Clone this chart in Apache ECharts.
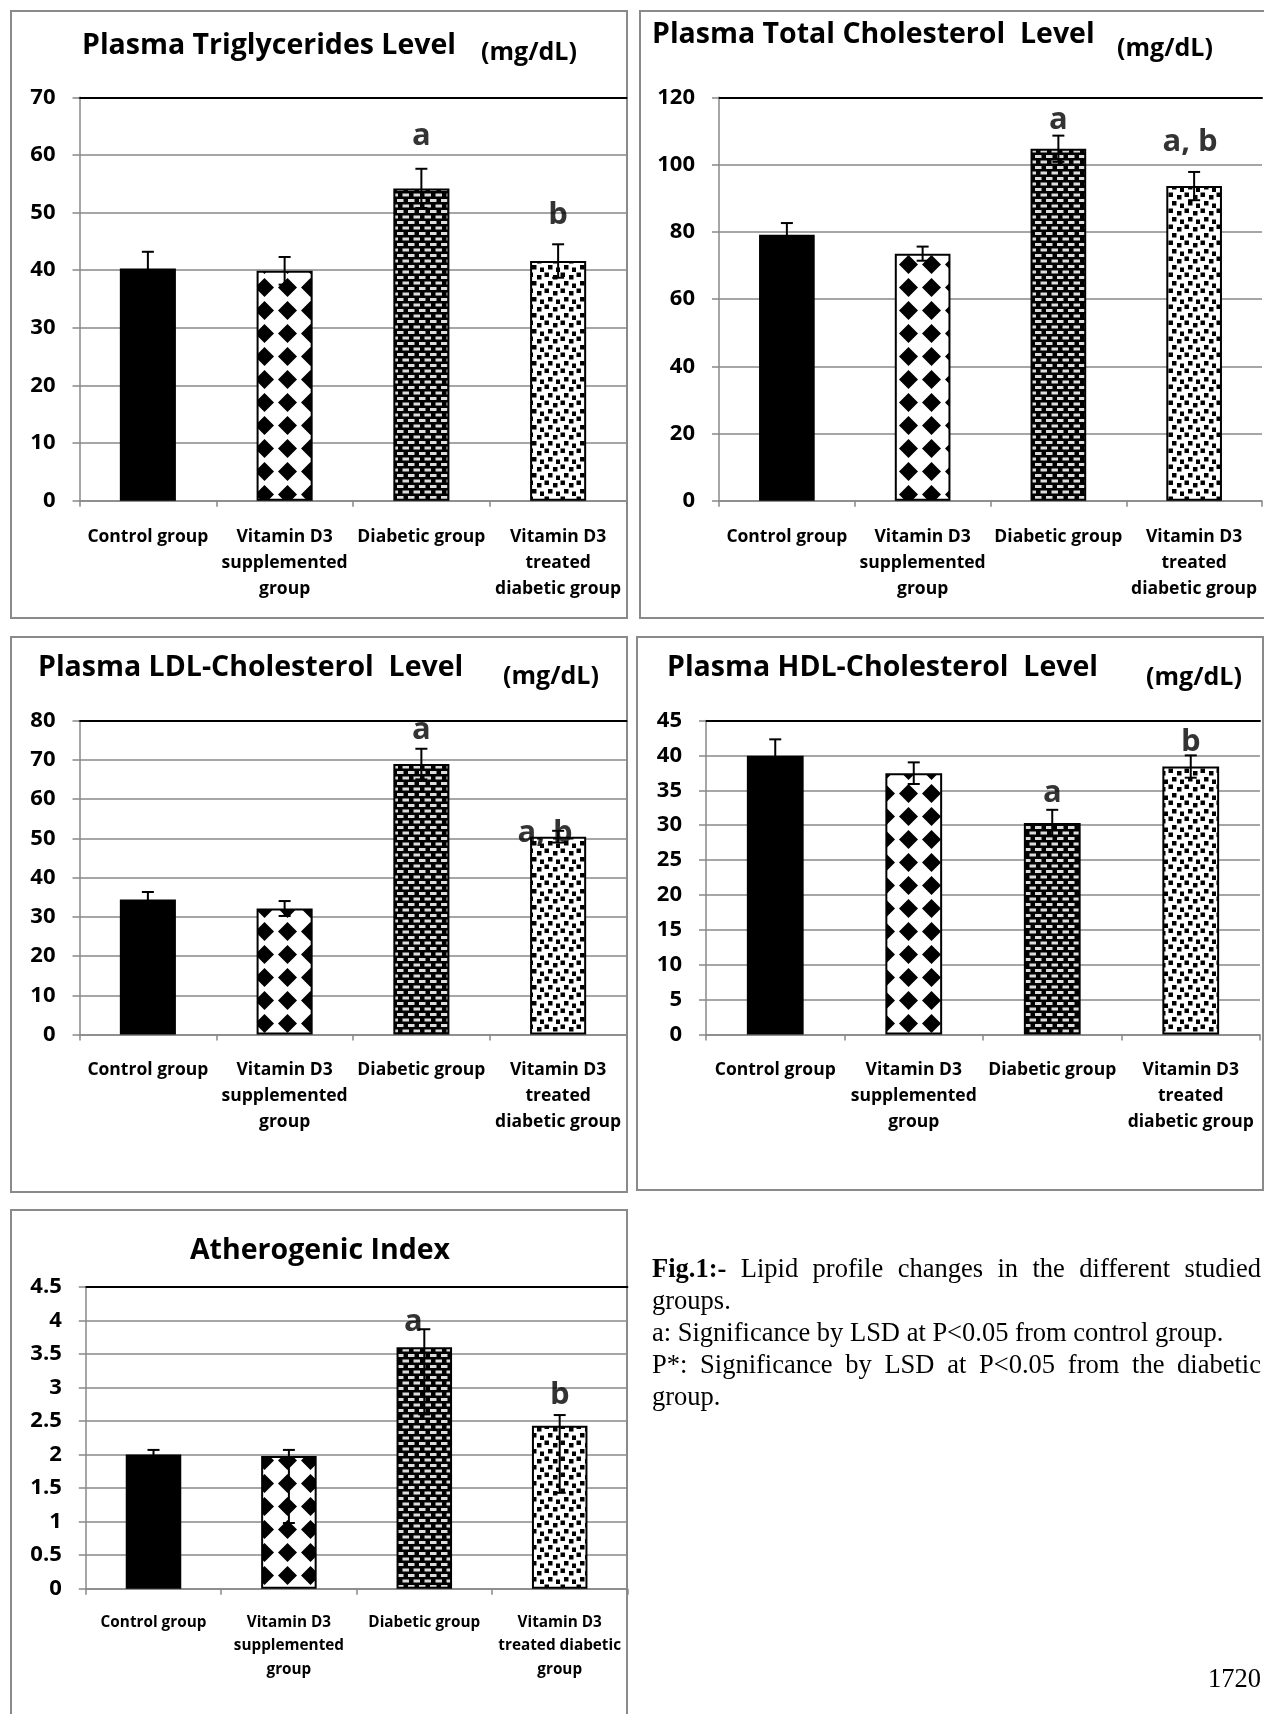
<!DOCTYPE html>
<html><head><meta charset="utf-8">
<script src="https://cdn.jsdelivr.net/npm/echarts@6/dist/echarts.min.js"></script>
<style>
html,body{margin:0;padding:0;background:#fff;}
#chart{position:absolute;left:0;top:0;width:1264px;height:1714px;}
#caption{position:absolute;left:652px;top:1252px;width:609px;font-family:'Liberation Serif','Times New Roman',serif;font-size:26.5px;line-height:32px;color:#000;}
.j{text-align:justify;text-align-last:justify;}
#page{position:absolute;left:1150px;top:1662px;width:111px;text-align:right;font-family:'Liberation Serif','Times New Roman',serif;font-size:26.5px;line-height:32px;color:#000;}
</style></head><body>
<div id="chart"></div>
<div id="caption">
<div class="j"><b>Fig.1:-</b> Lipid profile changes in the different studied</div>
<div>groups.</div>
<div>a: Significance by LSD at P&lt;0.05 from control group.</div>
<div class="j">P*: Significance by LSD at P&lt;0.05 from the diabetic</div>
<div>group.</div>
</div>
<div id="page">1720</div>
<script>
// ---------- DATA ----------
const categories = ['Control group', 'Vitamin D3\nsupplemented\ngroup', 'Diabetic group', 'Vitamin D3\ntreated\ndiabetic group'];
const categoriesAI = ['Control group', 'Vitamin D3\nsupplemented\ngroup', 'Diabetic group', 'Vitamin D3\ntreated diabetic\ngroup'];

const tgValues = [40.3, 39.9, 54.2, 41.6];
const tgErrPlus = [2.9, 2.4, 3.4, 2.9];
const tgErrMinus = [2.9, 2.4, 3.4, 2.9];
const tgSig = ['', '', 'a', 'b'];
const tgSigY = [null, null, 63.2, 49.5];

const tcValues = [79.1, 73.5, 104.7, 93.6];
const tcErrPlus = [3.5, 2.1, 3.9, 4.2];
const tcErrMinus = [3.5, 2.1, 3.9, 4.2];
const tcSig = ['', '', 'a', 'a, b'];
const tcSigY = [null, null, 113.2, 106.7];

const ldlValues = [34.4, 32.1, 68.9, 50.4];
const ldlErrPlus = [1.9, 1.9, 3.9, 1.5];
const ldlErrMinus = [1.9, 1.9, 3.9, 1.5];
const ldlSig = ['', '', 'a', 'a, b'];
const ldlSigY = [null, null, 77.5, 51.3];

const hdlValues = [39.95, 37.45, 30.3, 38.4];
const hdlErrPlus = [2.35, 1.55, 1.9, 1.6];
const hdlErrMinus = [2.35, 1.55, 1.9, 1.6];
const hdlSig = ['', '', 'a', 'b'];
const hdlSigY = [null, null, 34.6, 41.9];

const aiValues = [2.0, 1.98, 3.6, 2.43];
const aiErrPlus = [0.07, 0.09, 0.27, 0.16];
const aiErrMinus = [1.0, 1.0, 1.0, 1.0];
const aiSig = ['', '', 'a', 'b'];
const aiSigY = [null, null, 3.98, 2.89];

const yMax = [70, 120, 80, 45, 4.5];
const yInterval = [10, 20, 10, 5, 0.5];

// ---------- PATTERNS ----------
function makeCanvas(w, h, draw) {
  const c = document.createElement('canvas');
  c.width = w; c.height = h;
  draw(c.getContext('2d'), w, h);
  return c;
}
const diamondPat = makeCanvas(23, 23, (g, w, h) => {
  g.fillStyle = '#fff'; g.fillRect(0, 0, w, h);
  g.fillStyle = '#000';
  g.beginPath();
  g.moveTo(11.5, 2); g.lineTo(21, 11.5); g.lineTo(11.5, 21); g.lineTo(2, 11.5); g.closePath();
  g.fill();
});
const dashPat = makeCanvas(11, 11, (g, w, h) => {
  g.fillStyle = '#000'; g.fillRect(0, 0, w, h);
  g.fillStyle = '#dcdcdc';
  g.fillRect(1, 1, 6.5, 3);
  g.fillRect(6.5, 6.5, 6.5, 3);
  g.fillRect(-4.5, 6.5, 6.5, 3);
});
const dotPat = makeCanvas(16, 16, (g, w, h) => {
  g.fillStyle = '#fff'; g.fillRect(0, 0, w, h);
  g.fillStyle = '#000';
  g.fillRect(0.5, 0.5, 4.5, 4.5);
  g.fillRect(9, 3, 4.5, 4.5);
  g.fillRect(4, 9, 4.5, 4.5);
  g.fillRect(12, 11.5, 4.5, 4.5);
});
const barStyles = [
  { color: '#000', borderColor: '#000', borderWidth: 2 },
  { color: { image: diamondPat, repeat: 'repeat' }, borderColor: '#000', borderWidth: 2 },
  { color: { image: dashPat, repeat: 'repeat' }, borderColor: '#000', borderWidth: 2 },
  { color: { image: dotPat, repeat: 'repeat' }, borderColor: '#000', borderWidth: 2 }
];

// ---------- LAYOUT ----------
const panels = [
  { cats: categories, vals: tgValues, ep: tgErrPlus, em: tgErrMinus, sig: tgSig, sigY: tgSigY, sigDx: [0,0,0,0],
    grid: { left: 79.5, top: 97.3, width: 547, height: 403.5 }, labelSize: 17.5, lh: 26, margin: 23 },
  { cats: categories, vals: tcValues, ep: tcErrPlus, em: tcErrMinus, sig: tcSig, sigY: tcSigY, sigDx: [0,0,0,-4],
    grid: { left: 719, top: 97.3, width: 543, height: 403.5 }, labelSize: 17.5, lh: 26, margin: 23 },
  { cats: categories, vals: ldlValues, ep: ldlErrPlus, em: ldlErrMinus, sig: ldlSig, sigY: ldlSigY, sigDx: [0,0,0,-13],
    grid: { left: 79.5, top: 720.5, width: 547, height: 314 }, labelSize: 17.5, lh: 26, margin: 23 },
  { cats: categories, vals: hdlValues, ep: hdlErrPlus, em: hdlErrMinus, sig: hdlSig, sigY: hdlSigY, sigDx: [0,0,0,0],
    grid: { left: 706, top: 720.5, width: 554, height: 314 }, labelSize: 17.5, lh: 26, margin: 23 },
  { cats: categoriesAI, vals: aiValues, ep: aiErrPlus, em: aiErrMinus, sig: aiSig, sigY: aiSigY, sigDx: [0,0,-11,0],
    grid: { left: 85.8, top: 1287, width: 541.6, height: 301.7 }, labelSize: 15.3, lh: 23.5, margin: 22 }
];

const FONT = '"Open Sans"';
const grids = [], xAxes = [], yAxes = [], series = [];

function errorRender(params, api) {
  const i = api.value(0), hi = api.value(1), lo = api.value(2);
  const pHi = api.coord([i, hi]), pLo = api.coord([i, lo]);
  const hw = 6;
  const st = { stroke: '#000', lineWidth: 2 };
  return { type: 'group', children: [
    { type: 'line', shape: { x1: pHi[0], y1: pHi[1], x2: pLo[0], y2: pLo[1] }, style: st },
    { type: 'line', shape: { x1: pHi[0] - hw, y1: pHi[1], x2: pHi[0] + hw, y2: pHi[1] }, style: st },
    { type: 'line', shape: { x1: pLo[0] - hw, y1: pLo[1], x2: pLo[0] + hw, y2: pLo[1] }, style: st }
  ]};
}

panels.forEach((p, k) => {
  grids.push(Object.assign({ containLabel: false }, p.grid));
  xAxes.push({
    type: 'category', gridIndex: k, data: p.cats, boundaryGap: true,
    axisLine: { lineStyle: { color: '#888', width: 1.5 } },
    axisTick: { show: true, length: 6, alignWithLabel: false, lineStyle: { color: '#888', width: 1.5 } },
    axisLabel: { interval: 0, fontFamily: 'Open Sans', fontWeight: 'bold', fontSize: p.labelSize, color: '#000',
      lineHeight: p.lh, margin: p.margin, verticalAlign: 'top' },
    splitLine: { show: false }
  });
  xAxes.push({
    type: 'category', gridIndex: k, data: p.cats, position: 'top',
    axisLine: { onZero: false, lineStyle: { color: '#000', width: 2 } },
    axisTick: { show: false }, axisLabel: { show: false }, splitLine: { show: false }
  });
  yAxes.push({
    type: 'value', gridIndex: k, min: 0, max: yMax[k], interval: yInterval[k],
    axisLine: { show: true, lineStyle: { color: '#888', width: 1.5 } },
    axisTick: { show: true, length: 7, lineStyle: { color: '#888', width: 1.5 } },
    splitLine: { show: true, lineStyle: { color: '#888', width: 1.5 } },
    axisLabel: { fontFamily: 'Open Sans', fontWeight: 'bold', fontSize: 22, color: '#000', margin: 24 }
  });
  series.push({
    type: 'bar', xAxisIndex: 2 * k, yAxisIndex: k, barWidth: '41%', z: 2,
    data: p.vals.map((v, i) => ({ value: v, itemStyle: barStyles[i] })),
    animation: false
  });
  series.push({
    type: 'custom', xAxisIndex: 2 * k, yAxisIndex: k, z: 3,
    renderItem: errorRender,
    encode: { x: 0, y: [1, 2] },
    data: p.vals.map((v, i) => [i, v + p.ep[i], v - p.em[i]]),
    animation: false
  });
  const sigData = [];
  p.sig.forEach((s, i) => {
    if (s) sigData.push({ value: [i, p.sigY[i]], name: s, label: { offset: [p.sigDx[i], 0] } });
  });
  series.push({
    type: 'scatter', xAxisIndex: 2 * k, yAxisIndex: k, z: 5, symbolSize: 1,
    itemStyle: { color: 'rgba(0,0,0,0)' },
    label: { show: true, position: 'inside', formatter: '{b}', fontFamily: 'Open Sans', fontWeight: 'bold',
      fontSize: 31, color: '#000' },
    data: sigData, animation: false, silent: true
  });
});

const borderStyle = { stroke: '#8a8a8a', lineWidth: 2, fill: 'none' };
const titleFont = 'bold 28.5px ' + FONT;
const unitFont = 'bold 25px ' + FONT;
const graphic = [
  { type: 'rect', shape: { x: 11, y: 11, width: 616, height: 607 }, style: borderStyle, silent: true },
  { type: 'rect', shape: { x: 640, y: 11, width: 640, height: 607 }, style: borderStyle, silent: true },
  { type: 'rect', shape: { x: 11, y: 637, width: 616, height: 555 }, style: borderStyle, silent: true },
  { type: 'rect', shape: { x: 637, y: 637, width: 626, height: 553 }, style: borderStyle, silent: true },
  { type: 'rect', shape: { x: 11, y: 1210, width: 616, height: 530 }, style: borderStyle, silent: true },
  { type: 'text', x: 82, y: 46, style: { text: 'Plasma Triglycerides Level', font: titleFont, fill: '#000', align: 'left', verticalAlign: 'middle' } },
  { type: 'text', x: 481, y: 52.5, style: { text: '(mg/dL)', font: unitFont, fill: '#000', align: 'left', verticalAlign: 'middle' } },
  { type: 'text', x: 652, y: 35, style: { text: 'Plasma Total Cholesterol  Level', font: titleFont, fill: '#000', align: 'left', verticalAlign: 'middle' } },
  { type: 'text', x: 1117, y: 49, style: { text: '(mg/dL)', font: unitFont, fill: '#000', align: 'left', verticalAlign: 'middle' } },
  { type: 'text', x: 38, y: 668, style: { text: 'Plasma LDL-Cholesterol  Level', font: titleFont, fill: '#000', align: 'left', verticalAlign: 'middle' } },
  { type: 'text', x: 503, y: 677, style: { text: '(mg/dL)', font: unitFont, fill: '#000', align: 'left', verticalAlign: 'middle' } },
  { type: 'text', x: 667, y: 668, style: { text: 'Plasma HDL-Cholesterol  Level', font: titleFont, fill: '#000', align: 'left', verticalAlign: 'middle' } },
  { type: 'text', x: 1146, y: 678, style: { text: '(mg/dL)', font: unitFont, fill: '#000', align: 'left', verticalAlign: 'middle' } },
  { type: 'text', x: 320, y: 1251, style: { text: 'Atherogenic Index', font: titleFont, fill: '#000', align: 'center', verticalAlign: 'middle' } }
];

const chart = echarts.init(document.getElementById('chart'), null, { renderer: 'canvas' });
chart.setOption({
  animation: false,
  backgroundColor: '#fff',
  grid: grids, xAxis: xAxes, yAxis: yAxes, series: series, graphic: graphic
});
</script>
</body></html>
